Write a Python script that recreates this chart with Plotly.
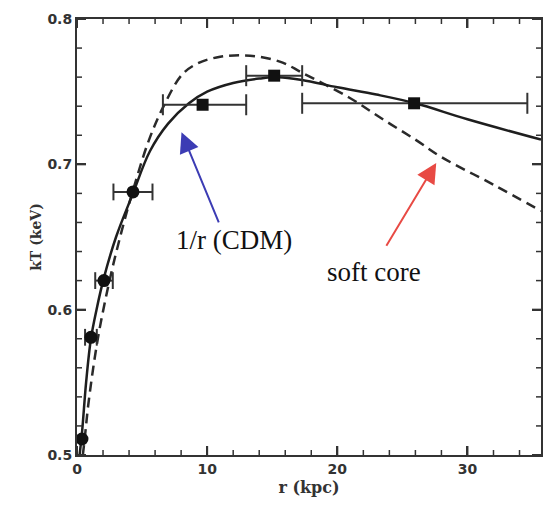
import numpy as np
import plotly.graph_objects as go

# ---- data ----
circ_r = [0.38, 1.07, 2.07, 4.3]
circ_kT = [0.511, 0.581, 0.620, 0.681]
circ_err_plus = [0.0, 0.45, 0.68, 1.5]
circ_err_minus = [0.0, 0.45, 0.67, 1.5]

sq_r = [9.65, 15.15, 25.9]
sq_kT = [0.741, 0.761, 0.742]
sq_err_plus = [3.35, 2.15, 8.7]
sq_err_minus = [3.05, 2.15, 8.6]

cdm_r = [0.2, 0.4, 0.7, 1.07, 1.5, 2.07, 3.0, 4.3, 5.6, 7.0, 8.6, 10.0, 12.0, 14.0,
         15.5, 17.3, 20.0, 23.0, 26.0, 30.0, 35.65]
cdm_kT = [0.50, 0.517, 0.55, 0.58, 0.60, 0.622, 0.65, 0.68, 0.709, 0.728, 0.742, 0.750,
          0.756, 0.759, 0.760, 0.758, 0.753, 0.748, 0.742, 0.731, 0.717]

soft_r = [0.45, 0.6, 0.9, 1.6, 2.5, 3.4, 4.3, 5.5, 6.6, 8.1, 9.4, 11.0, 12.5, 14.0,
          15.8, 17.3, 20.9, 23.5, 26.0, 28.0, 32.0, 35.65]
soft_kT = [0.50, 0.512, 0.537, 0.58, 0.62, 0.653, 0.682, 0.716, 0.739, 0.762, 0.770, 0.774,
           0.775, 0.774, 0.770, 0.763, 0.746, 0.731, 0.717, 0.705, 0.686, 0.668]

x_ticks = [0, 10, 20, 30]
y_ticks = [0.5, 0.6, 0.7, 0.8]
x_range = [0, 35.65]
y_range = [0.5, 0.8]
x_minor_step = 2
y_minor_step = 0.02

AX = "#333"


def err_segments(xs, ys, minus, plus):
    sx, sy, cx, cy = [], [], [], []
    for x, y, m, p in zip(xs, ys, minus, plus):
        if m + p <= 0:
            continue
        sx += [x - m, x + p, None]
        sy += [y, y, None]
        cx += [x - m, x + p]
        cy += [y, y]
    return sx, sy, cx, cy


fig = go.Figure()

fig.add_trace(go.Scatter(x=soft_r, y=soft_kT, mode="lines", line_shape="spline",
                         line=dict(color="#2a2a2a", width=2.5, dash="10px,6px"),
                         hoverinfo="skip", showlegend=False))
fig.add_trace(go.Scatter(x=cdm_r, y=cdm_kT, mode="lines", line_shape="spline",
                         line=dict(color="#1e1e1e", width=2.5),
                         hoverinfo="skip", showlegend=False))

for xs, ys, mn, pl, cap in [(circ_r, circ_kT, circ_err_minus, circ_err_plus, 12),
                            (sq_r, sq_kT, sq_err_minus, sq_err_plus, 15)]:
    sx, sy, cx, cy = err_segments(xs, ys, mn, pl)
    fig.add_trace(go.Scatter(x=sx, y=sy, mode="lines", line=dict(color=AX, width=2),
                             hoverinfo="skip", showlegend=False))
    fig.add_trace(go.Scatter(x=cx, y=cy, mode="markers",
                             marker=dict(symbol="line-ns", size=cap, line=dict(width=2, color=AX)),
                             hoverinfo="skip", showlegend=False))

fig.add_trace(go.Scatter(x=circ_r, y=circ_kT, mode="markers",
                         marker=dict(symbol="circle", size=13, color="#111"), showlegend=False))
fig.add_trace(go.Scatter(x=sq_r, y=sq_kT, mode="markers",
                         marker=dict(symbol="square", size=12, color="#111"), showlegend=False))

# inward tick marks on all four sides, drawn as pixel-sized shapes anchored to the axes
x_minor = [float(v) for v in np.arange(x_range[0], x_range[1], x_minor_step)
           if min(abs(v - t) for t in x_ticks) > 1e-6]
y_minor = [float(v) for v in np.arange(y_range[0], y_range[1] + 1e-9, y_minor_step)
           if min(abs(v - t) for t in y_ticks) > 1e-6]

for vals, length, width in [(x_ticks, 9, 2), (x_minor, 5, 1.5)]:
    for v in vals:
        for anchor, sign in [(y_range[0], 1), (y_range[1], -1)]:
            fig.add_shape(type="line", xref="x", yref="y", x0=v, x1=v,
                          ysizemode="pixel", yanchor=anchor, y0=0, y1=sign * length,
                          line=dict(color=AX, width=width), layer="above")
for vals, length, width in [(y_ticks, 9, 2), (y_minor, 5, 1.5)]:
    for v in vals:
        for anchor, sign in [(x_range[0], 1), (x_range[1], -1)]:
            fig.add_shape(type="line", xref="x", yref="y", y0=v, y1=v,
                          xsizemode="pixel", xanchor=anchor, x0=0, x1=sign * length,
                          line=dict(color=AX, width=width), layer="above")

# arrows
fig.add_annotation(x=8.03, y=0.722, ax=10.94, ay=0.659, xref="x", yref="y", axref="x", ayref="y",
                   showarrow=True, arrowhead=2, arrowsize=2, arrowwidth=2, arrowcolor="#3c3cb4", text="")
fig.add_annotation(x=27.6, y=0.701, ax=23.7, ay=0.643, xref="x", yref="y", axref="x", ayref="y",
                   showarrow=True, arrowhead=2, arrowsize=2, arrowwidth=2, arrowcolor="#e84a44", text="")

fig.add_annotation(x=12.1, y=0.648, text="1/r (CDM)", showarrow=False, xref="x", yref="y",
                   font=dict(family="Liberation Serif", size=27, color="#111"))
fig.add_annotation(x=22.8, y=0.626, text="soft core", showarrow=False, xref="x", yref="y",
                   font=dict(family="Liberation Serif", size=27, color="#111"))

tickfont = dict(family="DejaVu Sans", size=14, color=AX, weight="bold")

fig.update_layout(
    width=550, height=506, margin=dict(l=77, r=7, t=19, b=51),
    paper_bgcolor="white", plot_bgcolor="white", showlegend=False,
    xaxis=dict(range=x_range, tickmode="array", tickvals=x_ticks,
               ticktext=[str(v) for v in x_ticks],
               ticks="inside", ticklen=9, tickwidth=2, tickcolor=AX,
               showline=True, linecolor=AX, linewidth=2, mirror="allticks",
               showgrid=False, zeroline=False, tickfont=tickfont,
               title=dict(text="r (kpc)", standoff=6,
                          font=dict(family="DejaVu Serif", size=16, color=AX, weight="bold"))),
    yaxis=dict(range=y_range, tickmode="array", tickvals=y_ticks,
               ticktext=["0.5", "0.6", "0.7", "0.8"],
               ticks="inside", ticklen=9, tickwidth=2, tickcolor=AX,
               showline=True, linecolor=AX, linewidth=2, mirror="allticks",
               showgrid=False, zeroline=False, tickfont=tickfont,
               title=dict(text="kT (keV)", standoff=2,
                          font=dict(family="DejaVu Serif", size=14, color=AX, weight="bold"))),
)

fig.write_html("out.html")
